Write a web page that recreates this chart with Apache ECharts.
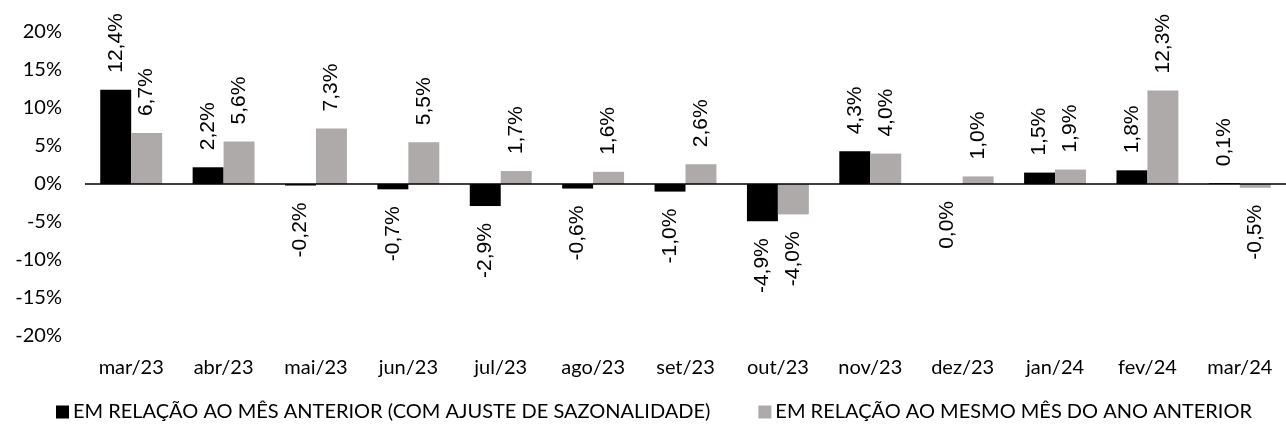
<!DOCTYPE html>
<html>
<head>
<meta charset="utf-8">
<script src="https://cdn.jsdelivr.net/npm/echarts@6/dist/echarts.min.js"></script>
<style>
html,body{margin:0;padding:0;background:#fff;}
#c{width:1286px;height:432px;}
</style>
</head>
<body>
<div id="c"></div>
<script>
const categories = ['mar/23','abr/23','mai/23','jun/23','jul/23','ago/23','set/23','out/23','nov/23','dez/23','jan/24','fev/24','mar/24'];
const mesAnterior = [12.4, 2.2, -0.2, -0.7, -2.9, -0.6, -1.0, -4.9, 4.3, 0.0, 1.5, 1.8, 0.1];
const mesmoMesAnoAnterior = [6.7, 5.6, 7.3, 5.5, 1.7, 1.6, 2.6, -4.0, 4.0, 1.0, 1.9, 12.3, -0.5];
const seriesNames = ['EM RELAÇÃO AO MÊS ANTERIOR (COM AJUSTE DE SAZONALIDADE)', 'EM RELAÇÃO AO MESMO MÊS DO ANO ANTERIOR'];
const yTicks = {min: -20, max: 20, interval: 5};

function fmt(v){ return v.toFixed(1).replace('.', ',') + '%'; }
function toData(arr){
  return arr.map(v => ({
    value: v,
    label: v > 0 ? {position: 'top', align: 'left'} : {position: 'bottom', align: 'right'}
  }));
}
const labelBase = {
  show: true, rotate: 90, verticalAlign: 'middle', distance: 17,
  fontFamily: 'Liberation Sans', fontSize: 21, color: '#000',
  formatter: p => fmt(p.value)
};

const chart = echarts.init(document.getElementById('c'), null, {renderer: 'canvas'});
chart.setOption({
  animation: false,
  backgroundColor: '#fff',
  grid: {left: 85, right: 0, top: 32, bottom: 96, containLabel: false},
  legend: {
    bottom: 5, left: 51, itemWidth: 13, itemHeight: 13, itemGap: 48,
    icon: 'rect',
    textStyle: {fontFamily: 'Lato', fontSize: 20, color: '#000', padding: [0,0,0,-1]},
    data: seriesNames
  },
  xAxis: {
    type: 'category', data: categories,
    axisLine: {show: false, onZero: false},
    axisTick: {show: false},
    axisLabel: {fontFamily: 'Lato', fontSize: 20, color: '#000', margin: 22, interval: 0}
  },
  yAxis: {
    type: 'value', min: yTicks.min, max: yTicks.max, interval: yTicks.interval,
    axisLine: {show: false}, axisTick: {show: false}, splitLine: {show: false},
    axisLabel: {fontFamily: 'Lato', fontSize: 20, color: '#000', margin: 23, formatter: '{value}%'}
  },
  series: [
    {
      name: seriesNames[0], type: 'bar', data: toData(mesAnterior),
      itemStyle: {color: '#000000'}, barGap: '0%', barCategoryGap: '33%',
      label: labelBase,
      markLine: {
        silent: true, symbol: 'none', label: {show: false},
        lineStyle: {color: '#000', width: 1.5, type: 'solid'},
        data: [{yAxis: 0}]
      }
    },
    {
      name: seriesNames[1], type: 'bar', data: toData(mesmoMesAnoAnterior),
      itemStyle: {color: '#AEAAAA'}, barGap: '0%', barCategoryGap: '33%',
      label: labelBase
    }
  ]
});
</script>
</body>
</html>
